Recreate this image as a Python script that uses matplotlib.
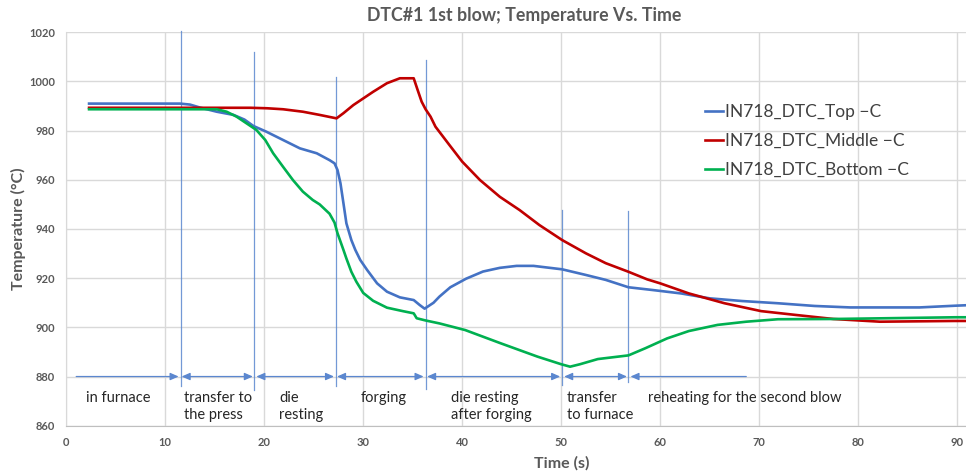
import matplotlib
matplotlib.use("Agg")
import matplotlib.pyplot as plt

plt.rcParams['font.family'] = ['Lato', 'DejaVu Sans']

# ---- data ----
t_top = [2.3, 11.5, 12.5, 13.5, 15.2, 16.9, 18.0, 18.9, 20.2, 21.9, 23.6, 25.3, 26.6, 27.1, 27.4,
         27.7, 28.0, 28.3, 28.8, 29.2, 29.7, 30.4, 31.4, 32.4, 33.7, 35.1, 35.7, 36.2, 37.1, 37.7,
         38.8, 40.4, 42.1, 43.8, 45.5, 47.2, 50.1, 52.5, 54.5, 56.8, 59.2, 62.1, 65.0, 68.3, 71.9,
         75.6, 79.2, 86.2, 89.8, 91.0]
T_top = [991, 991, 990.6, 989.4, 987.7, 986.4, 984.5, 981.9, 979.6, 976.2, 972.8, 970.8, 968.0, 966.7, 964.0,
         958.6, 950.5, 942.3, 935.5, 931.5, 927.4, 923.3, 917.9, 914.5, 912.2, 911.1, 909.1, 907.6, 910.0, 912.5,
         916.3, 919.8, 922.7, 924.2, 925.0, 925.0, 923.6, 921.3, 919.3, 916.3, 915.2, 913.8, 911.8, 910.7, 909.8,
         908.7, 908.1, 908.1, 908.8, 909.0]

t_mid = [2.3, 18.6, 20.3, 21.9, 23.9, 25.6, 27.3, 28.0, 29.0, 30.0, 31.0, 32.4, 33.7, 35.1, 35.5,
         35.9, 36.3, 36.8, 37.3, 38.7, 40.0, 41.8, 43.8, 45.8, 47.8, 50.1, 52.5, 54.5, 56.8, 58.7,
         60.0, 62.9, 66.5, 70.2, 73.8, 77.5, 82.2, 89.7, 91.0]
T_mid = [989.3, 989.3, 989.1, 988.7, 987.7, 986.4, 985.0, 987.1, 990.4, 993.1, 995.8, 999.3, 1001.3, 1001.3, 996.5,
         991.8, 988.7, 985.7, 981.6, 974.2, 967.4, 959.9, 953.1, 947.7, 941.6, 935.5, 930.1, 926.1, 922.6, 919.5,
         917.9, 913.8, 909.8, 906.6, 905.0, 903.4, 902.3, 902.6, 902.6]

t_bot = [2.3, 15.2, 16.2, 17.2, 18.2, 19.2, 20.1, 20.9, 21.9, 22.9, 23.9, 24.9, 25.6, 26.6, 27.1,
         27.4, 28.0, 28.3, 28.8, 29.3, 30.0, 31.0, 32.4, 34.0, 35.1, 35.4, 36.3, 37.7, 40.3,
         43.9, 47.6, 50.0, 50.9, 51.9, 53.7, 56.8, 58.5, 60.7, 62.9, 65.8, 68.7, 71.9, 77.5, 89.8, 91.0]
T_bot = [988.7, 988.7, 987.7, 985.7, 983.0, 980.3, 976.2, 970.8, 965.3, 959.9, 955.2, 951.8, 950.0, 946.2, 942.6,
         938.3, 931.5, 928.0, 922.6, 918.6, 914.0, 910.8, 908.0, 906.6, 905.7, 903.7, 902.8, 901.6, 898.9,
         893.5, 888.1, 885.0, 884.0, 885.0, 887.1, 888.6, 891.5, 895.5, 898.5, 901.0, 902.3, 903.3, 903.4, 904.1, 904.1]

series_labels = ['IN718_DTC_Top \u2212C', 'IN718_DTC_Middle \u2212C', 'IN718_DTC_Bottom \u2212C']
series_colors = ['#4472C4', '#C00000', '#00B050']

# phase boundaries (time, top temp, bottom temp)
phase_x = [11.55, 19.0, 27.2, 36.3, 50.1, 56.8]
phase_top = [1020.5, 1012.0, 1001.7, 1008.7, 947.6, 947.3]
phase_bot = [876.3, 874.5, 876.3, 874.9, 876.6, 877.9]

# phase arrows at 880 (start, end, style)
arrow_start = [1.0, 11.65, 19.2, 27.35, 36.45, 50.3, 57.0]
arrow_end = [11.35, 18.85, 27.05, 36.1, 49.9, 56.65, 68.7]
arrow_style = ['-|>', '<|-|>', '<|-|>', '<|-|>', '<|-|>', '<|-|>', '<|-']

phase_text = ['in furnace', 'transfer to\nthe press', 'die\nresting', 'forging',
              'die resting\nafter forging', 'transfer\nto furnace', 'reheating for the second blow']
phase_text_x = [1.95, 11.9, 21.5, 29.7, 38.9, 50.6, 58.8]

W, H = 966, 474
fig = plt.figure(figsize=(W / 100, H / 100), dpi=100)
ax = fig.add_axes([66.3 / W, (H - 425.7) / H, (W - 66.3) / W, (425.7 - 32.3) / H])

ax.set_xlim(0, 90.9)
ax.set_ylim(860, 1020)
ax.set_xticks(range(0, 91, 10))
ax.set_yticks(range(860, 1021, 20))
ax.grid(True, color='#d9d9d9', lw=1.0)
ax.set_axisbelow(True)
for s in ['top', 'right']:
    ax.spines[s].set_visible(False)
ax.spines['left'].set_color('#d9d9d9')
ax.spines['bottom'].set_color('#bfbfbf')
ax.tick_params(length=0, labelsize=8, labelcolor='#595959', pad=8)
for lab in ax.get_xticklabels() + ax.get_yticklabels():
    lab.set_fontweight('bold')

lines = []
for tx, ty, c, lb in zip([t_top, t_mid, t_bot], [T_top, T_mid, T_bot], series_colors, series_labels):
    ln, = ax.plot(tx, ty, color=c, lw=1.9, label=lb, zorder=3)
    lines.append(ln)

vcol = '#5b87cf'
for x, y0, y1 in zip(phase_x, phase_bot, phase_top):
    ax.plot([x, x], [y0, y1], color=vcol, lw=0.9, alpha=0.85, clip_on=False, zorder=2)

for a, b, st in zip(arrow_start, arrow_end, arrow_style):
    ax.annotate('', xy=(b, 880), xytext=(a, 880),
                arrowprops=dict(arrowstyle=st + ',head_length=0.5,head_width=0.22',
                                color=vcol, lw=0.9, shrinkA=0, shrinkB=0), zorder=2)

for txt, x in zip(phase_text, phase_text_x):
    ax.text(x, 874.2, txt, ha='left', va='top', fontsize=10.5, color='#262626',
            linespacing=1.25, transform=ax.transData)

leg = ax.legend(handles=lines, loc='center left', bbox_to_anchor=(0.71, 0.724),
                frameon=False, fontsize=12.5, handlelength=1.05, handletextpad=0.1,
                labelspacing=0.75, borderpad=0, borderaxespad=0)
for txt in leg.get_texts():
    txt.set_color('#404040')

fig.text(524 / W, 1 - 16 / H, 'DTC#1 1st blow; Temperature Vs. Time', ha='center', va='center',
         fontsize=12.8, fontweight='bold', color='#595959')
fig.text(561.7 / W, 1 - 463.5 / H, 'Time (s)', ha='center', va='center',
         fontsize=11.5, fontweight='bold', color='#595959')
fig.text(18 / W, 1 - 229 / H, 'Temperature (\u00b0C)', ha='center', va='center', rotation=90,
         fontsize=11.5, fontweight='bold', color='#595959')

fig.savefig('out.png', dpi=100)
